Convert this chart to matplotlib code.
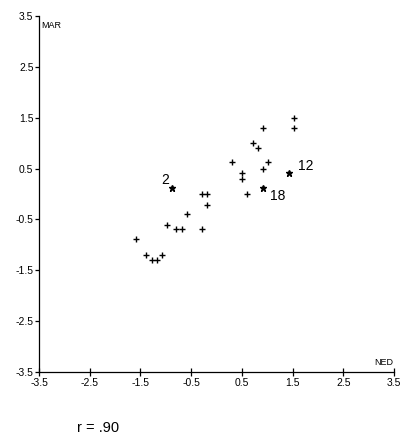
import matplotlib
matplotlib.use("Agg")
import matplotlib.pyplot as plt

plt.rcParams['font.family'] = ['Liberation Sans', 'DejaVu Sans']

# Regular points (NED, MAR)
ned = [1.52, 1.52, 0.92, 0.71, 0.81, 0.31, 1.02, 0.92, 0.51, 0.51, 0.61,
       -0.29, -0.18, -0.18, -0.59, -0.98, -0.80, -0.69, -0.29, -1.59,
       -1.39, -1.28, -1.18, -1.08]
mar = [1.49, 1.29, 1.29, 1.01, 0.91, 0.62, 0.62, 0.50, 0.42, 0.29, 0.00,
       0.00, 0.00, -0.21, -0.40, -0.60, -0.69, -0.69, -0.69, -0.89,
       -1.19, -1.30, -1.30, -1.19]

# Labelled (starred) points
star_ned = [-0.88, 1.42, 0.92]
star_mar = [0.12, 0.42, 0.12]
star_labels = ["2", "12", "18"]
label_offsets = [(-5, 6), (12.5, 4.5), (10.5, -6)]

ticks = [-3.5, -2.5, -1.5, -0.5, 0.5, 1.5, 2.5, 3.5]
tick_labels = ["-3.5", "-2.5", "-1.5", "-0.5", "0.5", "1.5", "2.5", "3.5"]

fig = plt.figure(figsize=(4.03, 4.37), dpi=100)
ax = fig.add_axes([0.0968, 0.1487, 0.8809, 0.8147])

ax.plot(ned, mar, linestyle='none', marker='+', color='black',
        markersize=5, markeredgewidth=1.0)
ax.plot(star_ned, star_mar, linestyle='none', marker='*', color='black',
        markersize=4.5)
for x, y, lab, off in zip(star_ned, star_mar, star_labels, label_offsets):
    ax.annotate(lab, (x, y), xytext=off, textcoords='offset points',
                ha='center', va='center', fontsize=10)

ax.set_xlim(-3.5, 3.5)
ax.set_ylim(-3.5, 3.5)
ax.set_xticks(ticks)
ax.set_xticklabels(tick_labels)
ax.set_yticks(ticks)
ax.set_yticklabels(tick_labels)

for s in ['top', 'right']:
    ax.spines[s].set_visible(False)
for s in ['left', 'bottom']:
    ax.spines[s].set_linewidth(0.9)

ax.tick_params(axis='x', direction='inout', length=6, width=0.9,
               labelsize=7.5, pad=1)
ax.tick_params(axis='y', direction='out', length=3, width=0.9,
               labelsize=7.5, pad=1)

ax.text(0.007, 0.985, "MAR", transform=ax.transAxes, fontsize=6.5,
        ha='left', va='top')
ax.text(0.998, 0.015, "NED", transform=ax.transAxes, fontsize=6.5,
        ha='right', va='bottom')

fig.text(0.19, 0.004, "r = .90", fontsize=10.5, ha='left', va='bottom')

fig.savefig("out.png", dpi=100, facecolor='white')
